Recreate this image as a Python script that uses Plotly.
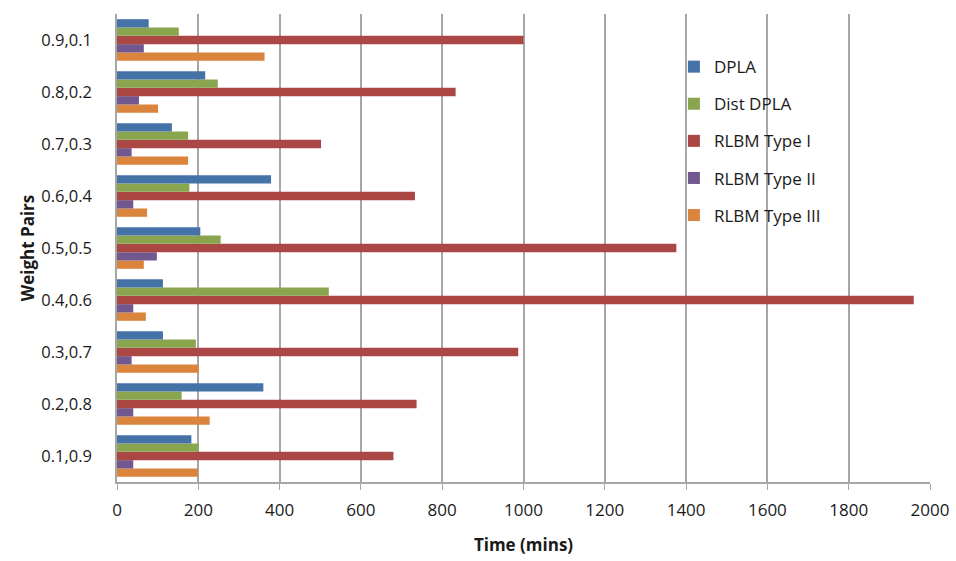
import plotly.graph_objects as go

categories = ["0.1,0.9", "0.2,0.8", "0.3,0.7", "0.4,0.6", "0.5,0.5",
              "0.6,0.4", "0.7,0.3", "0.8,0.2", "0.9,0.1"]
dpla = [183, 360, 113, 113, 205, 379, 135, 217, 78]
dist_dpla = [201, 159, 194, 521, 255, 178, 175, 248, 152]
rlbm_1 = [680, 737, 987, 1960, 1376, 733, 502, 833, 1000]
rlbm_2 = [40, 40, 36, 40, 98, 40, 36, 54, 66]
rlbm_3 = [199, 228, 201, 71, 66, 74, 175, 101, 363]
x_ticks = [0, 200, 400, 600, 800, 1000, 1200, 1400, 1600, 1800, 2000]

# (name, values, colour, legend rank) - added bottom-to-top within each group
series = [
    ("RLBM Type III", rlbm_3, "#DB843D", 5),
    ("RLBM Type II", rlbm_2, "#71588F", 4),
    ("RLBM Type I", rlbm_1, "#AA4643", 3),
    ("Dist DPLA", dist_dpla, "#89A54E", 2),
    ("DPLA", dpla, "#4572A7", 1),
]

font = "'Open Sans', Lato, sans-serif"
fig = go.Figure()
for name, vals, col, rank in series:
    fig.add_trace(go.Bar(
        y=categories, x=vals, name=name, orientation="h",
        marker=dict(color=col, line=dict(width=0)),
        legendgroup=name, legendrank=rank,
    ))

fig.update_layout(
    width=956, height=561,
    margin=dict(l=117, r=26, t=14, b=79, autoexpand=False),
    plot_bgcolor="white", paper_bgcolor="white",
    barmode="group", bargap=0.2, bargroupgap=0,
    font=dict(family=font, color="#1a1a1a", size=16),
    legend=dict(traceorder="grouped", x=0.685, y=0.925, xanchor="left", yanchor="top",
                font=dict(size=17), tracegroupgap=12, bgcolor="rgba(0,0,0,0)",
                itemwidth=30),
    xaxis=dict(range=[0, 2000], tickvals=x_ticks, showgrid=True, gridcolor="#a6a6a6",
               gridwidth=1.5, showline=True, linecolor="#a6a6a6", linewidth=1.5,
               ticks="outside", tickcolor="#a6a6a6", ticklen=6, ticklabelstandoff=6,
               tickfont=dict(size=17), automargin=False,
               title=dict(text="<b>Time (mins)</b>", font=dict(size=17), standoff=19),
               zeroline=False),
    yaxis=dict(showline=True, linecolor="#a6a6a6", linewidth=1.5, ticks="",
               ticklabelstandoff=20, tickfont=dict(size=16.5), automargin=False,
               title=dict(text="<b>Weight Pairs</b>", font=dict(size=17), standoff=2),
               categoryorder="array", categoryarray=categories),
)
fig.write_html("out.html", config={"displayModeBar": False},
               post_script="document.body.style.margin='0';")
